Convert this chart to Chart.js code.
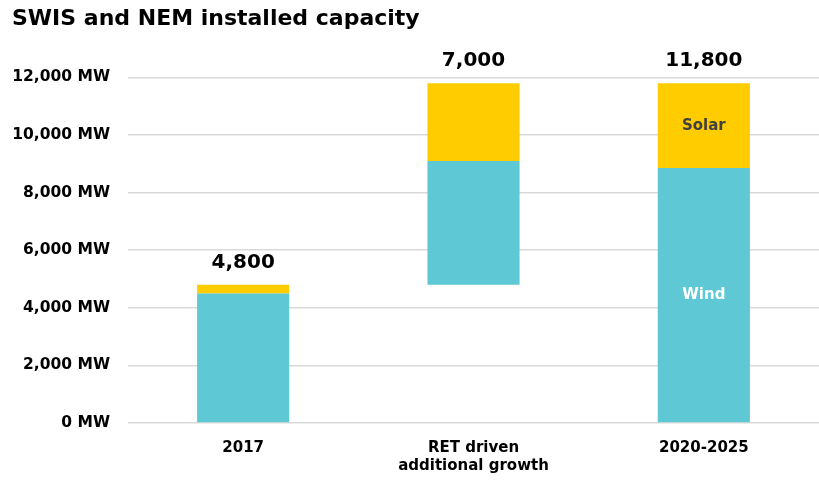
<!DOCTYPE html>
<html>
<head>
<meta charset="utf-8">
<script src="https://cdn.jsdelivr.net/npm/chart.js@4/dist/chart.umd.min.js"></script>
<style>
  body { margin: 0; background: #fff; }
  #wrap { width: 819px; height: 486px; }
</style>
</head>
<body>
<div id="wrap"><canvas id="chart"></canvas></div>
<script>
const categories = ['2017', ['RET driven', 'additional growth'], '2020-2025'];
const windBase = [0, 4800, 0];
const windValues = [4500, 4300, 8850];
const solarValues = [300, 2700, 2950];
const totalLabels = ['4,800', '7,000', '11,800'];
const yTicks = [0, 2000, 4000, 6000, 8000, 10000, 12000];

const windColor = '#5fc8d5';
const solarColor = '#ffcc00';
const fontFamily = '"DejaVu Sans", sans-serif';

// floating ranges built from the base + values
const windRanges = windBase.map((b, i) => [b, b + windValues[i]]);
const solarRanges = windRanges.map((r, i) => [r[1], r[1] + solarValues[i]]);

// totals above bars and series names inside the last bar
const labelPlugin = {
  id: 'barLabels',
  afterDatasetsDraw(chart) {
    const ctx = chart.ctx;
    const solarMeta = chart.getDatasetMeta(1);
    const windMeta = chart.getDatasetMeta(0);
    ctx.save();
    ctx.textAlign = 'center';
    ctx.textBaseline = 'bottom';
    ctx.font = 'bold 20px ' + fontFamily;
    ctx.fillStyle = '#000';
    solarMeta.data.forEach((bar, i) => {
      ctx.fillText(totalLabels[i], bar.x, bar.y - 12);
    });

    const last = categories.length - 1;
    const sBar = solarMeta.data[last];
    const wBar = windMeta.data[last];
    ctx.font = 'bold 15px ' + fontFamily;
    ctx.textBaseline = 'middle';
    ctx.fillStyle = '#404040';
    ctx.fillText('Solar', sBar.x, (sBar.y + sBar.base) / 2);
    ctx.fillStyle = '#fff';
    ctx.fillText('Wind', wBar.x, (wBar.y + wBar.base) / 2);
    ctx.restore();
  }
};

new Chart(document.getElementById('chart'), {
  type: 'bar',
  data: {
    labels: categories,
    datasets: [
      {
        label: 'Wind',
        data: windRanges,
        backgroundColor: windColor,
        borderSkipped: false,
        categoryPercentage: 1,
        barPercentage: 0.4
      },
      {
        label: 'Solar',
        data: solarRanges,
        backgroundColor: solarColor,
        borderSkipped: false,
        categoryPercentage: 1,
        barPercentage: 0.4
      }
    ]
  },
  options: {
    responsive: true,
    maintainAspectRatio: false,
    animation: false,
    layout: { padding: { left: 12, right: 0, top: 0, bottom: 3 } },
    plugins: {
      legend: { display: false },
      tooltip: { enabled: false },
      title: {
        display: true,
        text: 'SWIS and NEM installed capacity',
        align: 'start',
        color: '#000',
        font: { family: fontFamily, size: 22, weight: 'bold' },
        padding: { top: 6, bottom: 45 }
      }
    },
    scales: {
      x: {
        stacked: true,
        grid: { display: false },
        border: { display: false },
        ticks: {
          color: '#000',
          padding: 8,
          font: { family: fontFamily, size: 15, weight: 'bold' }
        }
      },
      y: {
        stacked: false,
        min: 0,
        max: 12000,
        afterBuildTicks(axis) {
          axis.ticks = yTicks.map(v => ({ value: v }));
        },
        afterFit(axis) {
          axis.width = 116;
        },
        grid: { color: '#d9d9d9', lineWidth: 1.5, drawTicks: false },
        border: { display: false },
        ticks: {
          color: '#000',
          padding: 18,
          font: { family: fontFamily, size: 15.5, weight: 'bold' },
          callback: v => v.toLocaleString('en-US') + ' MW'
        }
      }
    }
  },
  plugins: [labelPlugin]
});
</script>
</body>
</html>
